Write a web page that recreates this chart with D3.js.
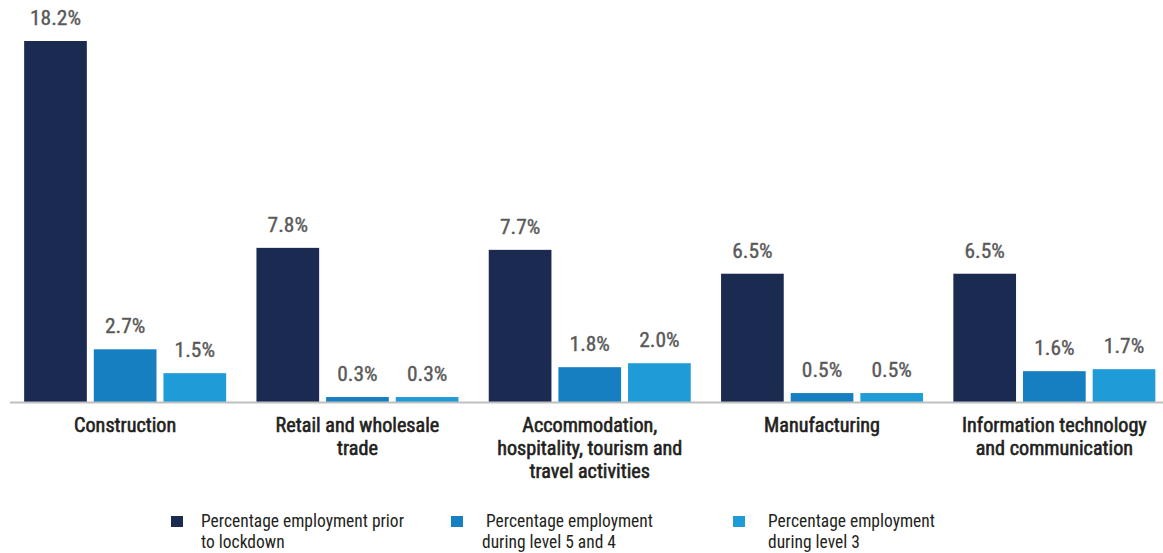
<!DOCTYPE html>
<html>
<head>
<meta charset="utf-8">
<script src="https://cdn.jsdelivr.net/npm/d3@7"></script>
<style>
  html, body { margin: 0; padding: 0; background: #fff; }
  svg { display: block; }
  .cond { font-family: "Roboto Condensed", "Liberation Sans Narrow", "Arial Narrow", Roboto, sans-serif; }
</style>
</head>
<body>
<svg id="chart" width="1163" height="553"></svg>
<script>
const categories = [
  "Construction",
  "Retail and wholesale trade",
  "Accommodation, hospitality, tourism and travel activities",
  "Manufacturing",
  "Information technology and communication"
];
const categoryLines = [
  ["Construction"],
  ["Retail and wholesale", "trade"],
  ["Accommodation,", "hospitality, tourism and", "travel activities"],
  ["Manufacturing"],
  ["Information technology", "and communication"]
];
const seriesNames = [
  "Percentage employment prior to lockdown",
  "Percentage employment during level 5 and 4",
  "Percentage employment during level 3"
];
const legendLines = [
  ["Percentage employment prior", "to lockdown"],
  [" Percentage employment", "during level 5 and 4"],
  ["Percentage employment", "during level 3"]
];
const priorLockdown = [18.2, 7.8, 7.7, 6.5, 6.5];
const level5and4 = [2.7, 0.3, 1.8, 0.5, 1.6];
const level3 = [1.5, 0.3, 2.0, 0.5, 1.7];
const colors = ["#1b2a50", "#167fc1", "#1f9cd8"];

const series = [priorLockdown, level5and4, level3];
const svg = d3.select("#chart");

// horizontal fitting factor so the chosen font matches the reference's condensed face
function fitScale(sample, size, weight, target) {
  const t = svg.append("text").attr("class", "cond")
    .attr("font-size", size).attr("font-weight", weight).text(sample);
  const w = t.node().getComputedTextLength();
  t.remove();
  return w > 0 ? target / w : 1;
}
const valScale = fitScale("18.2%", 20, 400, 51);
const catScale = fitScale("Accommodation,", 20.5, 400, 135);
const legScale = fitScale("Percentage employment", 18, 400, 167);

const baseline = 403;
const x0 = d3.scaleBand().domain(categories).range([9, 1170.5]).paddingInner(0).paddingOuter(0);
const groupW = 202;
const groupPad = (x0.bandwidth() - groupW) / 2;
const x1 = d3.scaleBand().domain(d3.range(series.length))
  .range([0, groupW]).paddingInner(0.1).paddingOuter(0);
const y = d3.scaleLinear().domain([0, 18.2]).range([baseline, 41]);

const groups = svg.selectAll("g.grp").data(categories).join("g")
  .attr("class", "grp")
  .attr("transform", d => `translate(${x0(d) + groupPad},0)`);

groups.each(function(cat, ci) {
  const g = d3.select(this);
  series.forEach((s, si) => {
    const v = s[ci];
    g.append("rect")
      .attr("x", x1(si))
      .attr("y", y(v))
      .attr("width", x1.bandwidth())
      .attr("height", baseline - y(v))
      .attr("fill", colors[si]);
    const cx = x1(si) + x1.bandwidth() / 2;
    g.append("text")
      .attr("class", "cond")
      .attr("transform", `translate(${cx},${y(v) - 16}) scale(${valScale},1)`)
      .attr("text-anchor", "middle")
      .attr("font-size", 20)
      .attr("font-weight", 400)
      .attr("fill", "#595959")
      .attr("stroke", "#595959")
      .attr("stroke-width", 0.35)
      .text(v.toFixed(1) + "%");
  });
});

// axis
svg.append("line")
  .attr("x1", 10).attr("x2", 1163)
  .attr("y1", baseline - 0.5).attr("y2", baseline - 0.5)
  .attr("stroke", "#bfbfbf").attr("stroke-width", 2);

// category labels
categories.forEach((c, i) => {
  const cx = x0(c) + x0.bandwidth() / 2;
  const t = svg.append("text")
    .attr("class", "cond")
    .attr("transform", `translate(${cx},0) scale(${catScale},1)`)
    .attr("text-anchor", "middle")
    .attr("font-size", 20.5)
    .attr("font-weight", 400)
    .attr("fill", "#231f20")
    .attr("stroke", "#231f20")
    .attr("stroke-width", 0.6);
  categoryLines[i].forEach((ln, li) => {
    t.append("tspan")
      .attr("x", 0)
      .attr("y", 432 + li * 23)
      .text(ln);
  });
});

// legend
const legendX = [171, 451, 733];
const legendTextX = [201, 482, 768];
seriesNames.forEach((n, i) => {
  svg.append("rect")
    .attr("x", legendX[i]).attr("y", 516)
    .attr("width", 12).attr("height", 11)
    .attr("fill", colors[i]);
  const t = svg.append("text")
    .attr("class", "cond")
    .attr("transform", `translate(${legendTextX[i]},0) scale(${legScale},1)`)
    .attr("font-size", 18)
    .attr("fill", "#231f20")
    .attr("xml:space", "preserve")
    .style("white-space", "pre");
  legendLines[i].forEach((ln, li) => {
    t.append("tspan")
      .attr("x", 0)
      .attr("y", 527 + li * 21.5)
      .text(ln);
  });
});
</script>
</body>
</html>
